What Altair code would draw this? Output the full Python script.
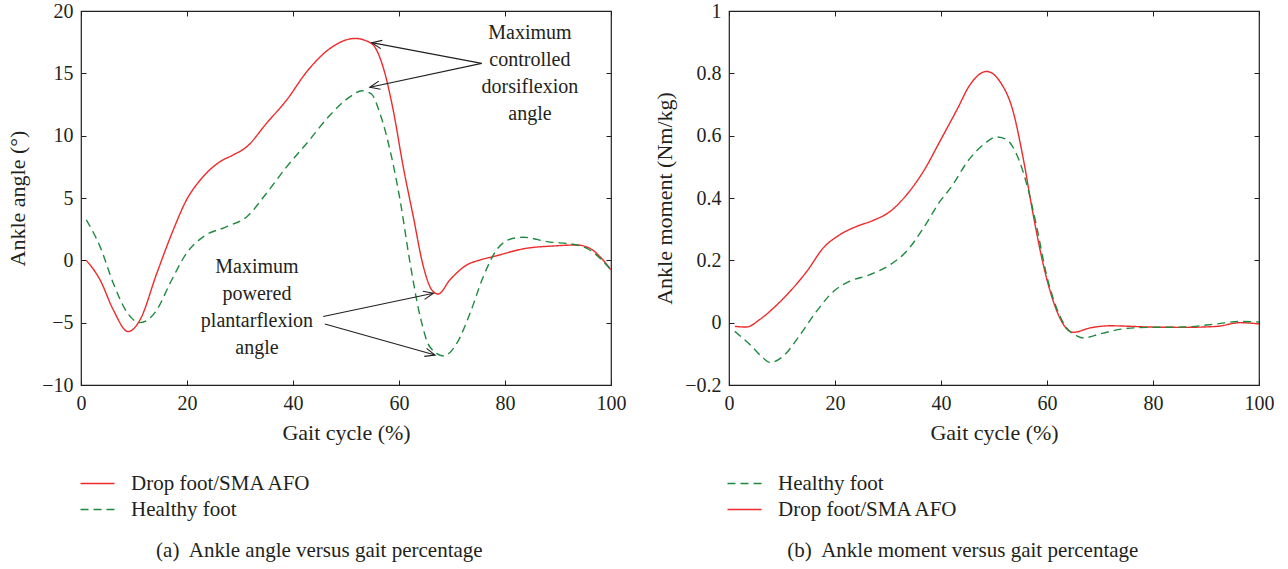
import math
import altair as alt
import pandas as pd

FONT = "Liberation Serif"
INK = "#231f20"
RED = "#ee2a2a"
GREEN = "#1f8a3f"
S_DROP = "Drop foot/SMA AFO"
S_HEALTHY = "Healthy foot"

# ---- (a) ankle angle ----
ang_drop_x = [1, 3.6, 6.1, 8.9, 11.1, 14.3, 17.4, 19.9, 22.5, 26.2, 28.7, 31.3, 35, 38.8, 42.6, 47,
              51.7, 54.8, 57.0, 58.9, 60.8, 62.7, 64.6, 66.2, 67.4, 69.6, 72.8, 75.3, 77.8, 84.1,
              89.1, 93.5, 96, 97.9, 100]
ang_drop_y = [0.0, -1.57, -3.98, -5.72, -4.8, -1.04, 2.43, 4.84, 6.44, 7.91, 8.45, 9.12, 10.99, 12.86,
              15.13, 17.0, 17.8, 17.4, 15.5, 12.06, 7.5, 3.5, -0.5, -2.38, -2.7, -1.57, -0.37, 0.03,
              0.3, 0.97, 1.15, 1.23, 0.97, 0.3, -0.77]
ang_healthy_x = [1, 3.6, 6.1, 8.6, 11.1, 14.3, 16.8, 19.9, 23.1, 27.5, 31.3, 35, 38.8, 42.6, 47,
                 50.8, 53, 54.8, 56.4, 58.3, 60.2, 62.1, 64, 65.8, 68.4, 70.9, 73.4, 75.9, 78.4,
                 81.6, 83.5, 87.9, 93.5, 96, 100]
ang_healthy_y = [3.24, 1.1, -1.84, -4.12, -5.0, -3.98, -1.84, 0.56, 1.9, 2.7, 3.5, 5.38, 7.5, 9.39,
                 11.66, 13.13, 13.6, 13.34, 11.8, 8.85, 4.84, -0.24, -4.52, -6.93, -7.67, -6.66,
                 -4.25, -1.31, 0.83, 1.77, 1.85, 1.5, 1.23, 0.83, -0.77]

# ---- (b) ankle moment ----
mom_drop_x = [1.1, 3.3, 5.8, 8.4, 11.5, 14.7, 17.8, 20.9, 24.1, 27.2, 30.4, 33.5, 36.7, 39.8, 43,
              45.5, 48.6, 51.1, 53.6, 55.5, 57.4, 59.3, 61.2, 63.1, 65, 68.1, 71.9, 79.4, 85.7,
              92, 96.4, 100]
mom_drop_y = [-0.012, -0.014, 0.01, 0.047, 0.10, 0.165, 0.24, 0.282, 0.309, 0.328, 0.357, 0.41,
              0.486, 0.582, 0.683, 0.764, 0.806, 0.774, 0.678, 0.528, 0.346, 0.186, 0.068, -0.006,
              -0.031, -0.017, -0.01, -0.014, -0.015, -0.012, 0.0, -0.004]
mom_healthy_x = [1.1, 4, 6.5, 7.7, 10.2, 13.4, 16.5, 19.7, 22.8, 26.6, 30.4, 33.5, 36.7, 39.8,
                 41.7, 45.5, 48, 50.5, 52.4, 54.3, 56.2, 58.1, 59.9, 61.8, 63.7, 65.6, 66.9, 70,
                 74.4, 79.4, 85.7, 92, 96.4, 100]
mom_healthy_y = [-0.028, -0.071, -0.114, -0.128, -0.108, -0.039, 0.036, 0.10, 0.133, 0.154, 0.186,
                 0.229, 0.304, 0.389, 0.43, 0.528, 0.571, 0.596, 0.587, 0.539, 0.443, 0.304, 0.154,
                 0.047, -0.017, -0.042, -0.049, -0.036, -0.02, -0.015, -0.014, -0.004, 0.004, 0.002]

x_ticks = [0, 20, 40, 60, 80, 100]
ang_ticks = [-10, -5, 0, 5, 10, 15, 20]
mom_ticks = [-0.2, 0, 0.2, 0.4, 0.6, 0.8, 1]

# annotations (data coordinates of panel a; y = first text line)
note_text = ["Maximum\ncontrolled\ndorsiflexion\nangle", "Maximum\npowered\nplantarflexion\nangle"]
note_x = [84.7, 33.2]
note_y = [18.24, -0.53]
arrow_x = [75.6, 75.6, 45.7, 46.0]
arrow_y = [15.8, 15.8, -4.5, -5.1]
arrow_x2 = [54.85, 54.5, 66.5, 66.8]
arrow_y2 = [17.46, 13.88, -2.64, -7.6]

W, H = 530, 374


def long_df(xs1, ys1, xs2, ys2):
    a = pd.DataFrame({"x": xs1, "y": ys1, "series": S_DROP})
    b = pd.DataFrame({"x": xs2, "y": ys2, "series": S_HEALTHY})
    return pd.concat([a, b], ignore_index=True)


def panel(df, ydom, yticks, ytitle, legend_order, caption, ylabel_fmt, ytitle_pad, leg_x,
          cap_dx, extra=None):
    xs = alt.Scale(domain=[0, 100], nice=False, zero=False)
    ys = alt.Scale(domain=ydom, nice=False, zero=False)
    colors = {S_DROP: RED, S_HEALTHY: GREEN}
    dashes = {S_DROP: [1, 0], S_HEALTHY: [8, 5]}
    legend = alt.Legend(
        orient="none", legendX=leg_x, legendY=H + 88, title=None,
        symbolType="M -2 0 L 2 0", symbolSize=289, symbolStrokeWidth=1.4,
        labelFont=FONT, labelFontSize=21, labelColor=INK, labelOffset=23,
        rowPadding=4, labelLimit=400,
    )
    color = alt.Color("series:N", scale=alt.Scale(domain=legend_order,
                                                  range=[colors[s] for s in legend_order]),
                      legend=legend, sort=legend_order)
    dash = alt.StrokeDash("series:N", scale=alt.Scale(domain=legend_order,
                                                      range=[dashes[s] for s in legend_order]),
                          legend=legend, sort=legend_order)
    common = dict(offset=-5, tickSize=5, tickColor=INK, tickWidth=1, domain=False, grid=False,
                  labelFlush=False, labelOverlap=False,
                  labelFont=FONT, labelFontSize=20, labelColor=INK, titleFont=FONT,
                  titleFontSize=22, titleColor=INK, titleFontWeight="normal")
    lines = alt.Chart(df).mark_line(strokeWidth=1.4, interpolate="monotone").encode(
        x=alt.X("x:Q", scale=xs, axis=alt.Axis(orient="bottom", values=x_ticks, labelPadding=8,
                                                 title="Gait cycle (%)", titlePadding=9, **common)),
        y=alt.Y("y:Q", scale=ys, axis=alt.Axis(orient="left", values=yticks, labelPadding=8,
                                                 format=ylabel_fmt, title=ytitle,
                                                 titlePadding=ytitle_pad, **common)),
        color=color, strokeDash=dash,
    )
    mirror = alt.Chart(df).mark_line(opacity=0).encode(
        x=alt.X("x:Q", scale=xs, axis=alt.Axis(orient="top", values=x_ticks, labels=False,
                                                 title=None, **common)),
        y=alt.Y("y:Q", scale=ys, axis=alt.Axis(orient="right", values=yticks, labels=False,
                                                 title=None, **common)),
    )
    layers = [lines, mirror]
    if extra is not None:
        layers += extra(xs, ys)
    return alt.layer(*layers).resolve_axis(x="independent", y="independent").properties(
        width=W, height=H,
        title=alt.TitleParams(caption, orient="bottom", anchor="middle", frame="bounds",
                              font=FONT, fontSize=21, fontWeight="normal", color=INK, offset=20,
                              dx=cap_dx),
    )


def annotations(xs, ys):
    sx = W / 100.0
    sy = H / 30.0
    ang = []
    for x1, y1, x2, y2 in zip(arrow_x, arrow_y, arrow_x2, arrow_y2):
        dx = (x1 - x2) * sx
        dy = -(y1 - y2) * sy
        ang.append(math.degrees(math.atan2(dy, dx)) % 360)
    adf = pd.DataFrame({"x": arrow_x, "y": arrow_y, "x2": arrow_x2, "y2": arrow_y2, "ang": ang})
    tdf = pd.DataFrame({"x": note_x, "y": note_y, "t": note_text})
    rules = alt.Chart(adf).mark_rule(color=INK, strokeWidth=1.1).encode(
        x=alt.X("x:Q", scale=xs, axis=None), y=alt.Y("y:Q", scale=ys, axis=None),
        x2="x2:Q", y2="y2:Q")
    heads = alt.Chart(adf).mark_point(
        shape="M 1 -0.42 L 0 0 L 1 0.42", size=400, filled=False, stroke=INK, strokeWidth=1.1,
        opacity=1).encode(
        x=alt.X("x2:Q", scale=xs, axis=None), y=alt.Y("y2:Q", scale=ys, axis=None),
        angle=alt.Angle("ang:Q", scale=None))
    texts = alt.Chart(tdf).mark_text(font=FONT, fontSize=20, color=INK, lineBreak="\n",
                                     lineHeight=27, align="center", baseline="middle").encode(
        x=alt.X("x:Q", scale=xs, axis=None), y=alt.Y("y:Q", scale=ys, axis=None), text="t:N")
    return [rules, heads, texts]


left = panel(long_df(ang_drop_x, ang_drop_y, ang_healthy_x, ang_healthy_y), [-10, 20], ang_ticks,
             "Ankle angle (°)", [S_DROP, S_HEALTHY],
             "(a)\u00a0 Ankle angle versus gait percentage", "d", 12, 6, 3, extra=annotations)
right = panel(long_df(mom_drop_x, mom_drop_y, mom_healthy_x, mom_healthy_y), [-0.2, 1], mom_ticks,
              "Ankle moment (Nm/kg)", [S_HEALTHY, S_DROP],
              "(b)\u00a0 Ankle moment versus gait percentage", "~g", 8, 5, -1)

chart = alt.hconcat(left, right, spacing=26).resolve_scale(
    color="independent", strokeDash="independent", x="independent", y="independent"
).properties(
    padding={"left": 6, "top": 0, "right": 5, "bottom": 5},
    background="white",
).configure_view(stroke=INK, strokeWidth=1.2)

chart.save("out.html", embed_options={"renderer": "svg", "actions": False})
